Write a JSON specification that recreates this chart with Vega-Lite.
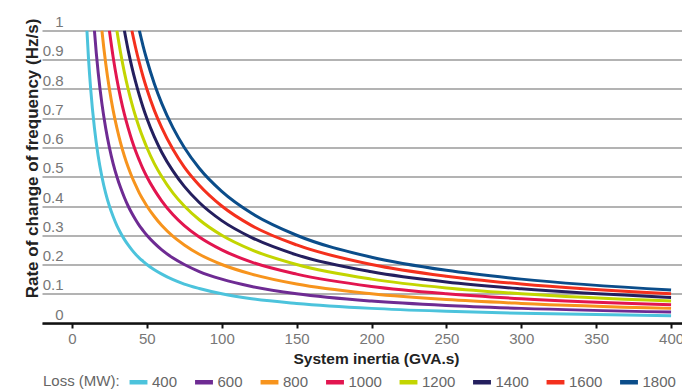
{
  "$schema": "https://vega.github.io/schema/vega-lite/v6.json",
  "autosize": "none",
  "width": 640,
  "height": 292.5,
  "padding": {"left": 42, "top": 30.5, "right": 0, "bottom": 67},
  "background": "white",
  "config": {
    "view": {"stroke": null},
    "font": "Liberation Sans"
  },
  "data": {"values": [
    {"l":400,"h":10,"r":1},{"l":400,"h":11,"r":0.909},{"l":400,"h":12.5,"r":0.8},{"l":400,"h":15,"r":0.667},{"l":400,"h":17.5,"r":0.571},{"l":400,"h":20,"r":0.5},{"l":400,"h":22.5,"r":0.444},{"l":400,"h":25,"r":0.4},{"l":400,"h":27.5,"r":0.364},{"l":400,"h":30,"r":0.333},{"l":400,"h":32.5,"r":0.308},{"l":400,"h":35,"r":0.286},{"l":400,"h":37.5,"r":0.267},{"l":400,"h":40,"r":0.25},{"l":400,"h":42.5,"r":0.235},{"l":400,"h":45,"r":0.222},{"l":400,"h":47.5,"r":0.211},{"l":400,"h":50,"r":0.2},{"l":400,"h":55,"r":0.182},{"l":400,"h":60,"r":0.167},{"l":400,"h":67.5,"r":0.148},{"l":400,"h":75,"r":0.133},{"l":400,"h":85,"r":0.118},{"l":400,"h":100,"r":0.1},{"l":400,"h":120,"r":0.083},{"l":400,"h":150,"r":0.067},{"l":400,"h":200,"r":0.05},{"l":400,"h":250,"r":0.04},{"l":400,"h":300,"r":0.033},{"l":400,"h":400,"r":0.025},
    {"l":600,"h":15,"r":1},{"l":600,"h":16.25,"r":0.923},{"l":600,"h":17.5,"r":0.857},{"l":600,"h":20,"r":0.75},{"l":600,"h":22.5,"r":0.667},{"l":600,"h":25,"r":0.6},{"l":600,"h":27.5,"r":0.545},{"l":600,"h":30,"r":0.5},{"l":600,"h":32.5,"r":0.462},{"l":600,"h":35,"r":0.429},{"l":600,"h":37.5,"r":0.4},{"l":600,"h":40,"r":0.375},{"l":600,"h":42.5,"r":0.353},{"l":600,"h":45,"r":0.333},{"l":600,"h":47.5,"r":0.316},{"l":600,"h":50,"r":0.3},{"l":600,"h":55,"r":0.273},{"l":600,"h":60,"r":0.25},{"l":600,"h":67.5,"r":0.222},{"l":600,"h":75,"r":0.2},{"l":600,"h":85,"r":0.176},{"l":600,"h":100,"r":0.15},{"l":600,"h":120,"r":0.125},{"l":600,"h":150,"r":0.1},{"l":600,"h":200,"r":0.075},{"l":600,"h":250,"r":0.06},{"l":600,"h":300,"r":0.05},{"l":600,"h":400,"r":0.0375},
    {"l":800,"h":20,"r":1},{"l":800,"h":21.25,"r":0.941},{"l":800,"h":22.5,"r":0.889},{"l":800,"h":25,"r":0.8},{"l":800,"h":27.5,"r":0.727},{"l":800,"h":30,"r":0.667},{"l":800,"h":32.5,"r":0.615},{"l":800,"h":35,"r":0.571},{"l":800,"h":37.5,"r":0.533},{"l":800,"h":40,"r":0.5},{"l":800,"h":42.5,"r":0.471},{"l":800,"h":45,"r":0.444},{"l":800,"h":47.5,"r":0.421},{"l":800,"h":50,"r":0.4},{"l":800,"h":55,"r":0.364},{"l":800,"h":60,"r":0.333},{"l":800,"h":67.5,"r":0.296},{"l":800,"h":75,"r":0.267},{"l":800,"h":85,"r":0.235},{"l":800,"h":100,"r":0.2},{"l":800,"h":120,"r":0.167},{"l":800,"h":150,"r":0.133},{"l":800,"h":200,"r":0.1},{"l":800,"h":250,"r":0.08},{"l":800,"h":300,"r":0.067},{"l":800,"h":400,"r":0.05},
    {"l":1000,"h":25,"r":1},{"l":1000,"h":27.5,"r":0.909},{"l":1000,"h":30,"r":0.833},{"l":1000,"h":32.5,"r":0.769},{"l":1000,"h":35,"r":0.714},{"l":1000,"h":37.5,"r":0.667},{"l":1000,"h":40,"r":0.625},{"l":1000,"h":42.5,"r":0.588},{"l":1000,"h":45,"r":0.556},{"l":1000,"h":47.5,"r":0.526},{"l":1000,"h":50,"r":0.5},{"l":1000,"h":55,"r":0.455},{"l":1000,"h":60,"r":0.417},{"l":1000,"h":67.5,"r":0.37},{"l":1000,"h":75,"r":0.333},{"l":1000,"h":85,"r":0.294},{"l":1000,"h":100,"r":0.25},{"l":1000,"h":120,"r":0.208},{"l":1000,"h":150,"r":0.167},{"l":1000,"h":200,"r":0.125},{"l":1000,"h":250,"r":0.1},{"l":1000,"h":300,"r":0.083},{"l":1000,"h":400,"r":0.0625},
    {"l":1200,"h":30,"r":1},{"l":1200,"h":32.5,"r":0.923},{"l":1200,"h":35,"r":0.857},{"l":1200,"h":37.5,"r":0.8},{"l":1200,"h":40,"r":0.75},{"l":1200,"h":42.5,"r":0.706},{"l":1200,"h":45,"r":0.667},{"l":1200,"h":47.5,"r":0.632},{"l":1200,"h":50,"r":0.6},{"l":1200,"h":55,"r":0.545},{"l":1200,"h":60,"r":0.5},{"l":1200,"h":67.5,"r":0.444},{"l":1200,"h":75,"r":0.4},{"l":1200,"h":85,"r":0.353},{"l":1200,"h":100,"r":0.3},{"l":1200,"h":120,"r":0.25},{"l":1200,"h":150,"r":0.2},{"l":1200,"h":200,"r":0.15},{"l":1200,"h":250,"r":0.12},{"l":1200,"h":300,"r":0.1},{"l":1200,"h":400,"r":0.075},
    {"l":1400,"h":35,"r":1},{"l":1400,"h":37.5,"r":0.933},{"l":1400,"h":40,"r":0.875},{"l":1400,"h":42.5,"r":0.824},{"l":1400,"h":45,"r":0.778},{"l":1400,"h":47.5,"r":0.737},{"l":1400,"h":50,"r":0.7},{"l":1400,"h":55,"r":0.636},{"l":1400,"h":60,"r":0.583},{"l":1400,"h":67.5,"r":0.519},{"l":1400,"h":75,"r":0.467},{"l":1400,"h":85,"r":0.412},{"l":1400,"h":100,"r":0.35},{"l":1400,"h":120,"r":0.292},{"l":1400,"h":150,"r":0.233},{"l":1400,"h":200,"r":0.175},{"l":1400,"h":250,"r":0.14},{"l":1400,"h":300,"r":0.117},{"l":1400,"h":400,"r":0.0875},
    {"l":1600,"h":40,"r":1},{"l":1600,"h":42.5,"r":0.941},{"l":1600,"h":45,"r":0.889},{"l":1600,"h":47.5,"r":0.842},{"l":1600,"h":50,"r":0.8},{"l":1600,"h":55,"r":0.727},{"l":1600,"h":60,"r":0.667},{"l":1600,"h":67.5,"r":0.593},{"l":1600,"h":75,"r":0.533},{"l":1600,"h":85,"r":0.471},{"l":1600,"h":100,"r":0.4},{"l":1600,"h":120,"r":0.333},{"l":1600,"h":150,"r":0.267},{"l":1600,"h":200,"r":0.2},{"l":1600,"h":250,"r":0.16},{"l":1600,"h":300,"r":0.133},{"l":1600,"h":400,"r":0.1},
    {"l":1800,"h":45,"r":1},{"l":1800,"h":47.5,"r":0.947},{"l":1800,"h":50,"r":0.9},{"l":1800,"h":55,"r":0.818},{"l":1800,"h":60,"r":0.75},{"l":1800,"h":67.5,"r":0.667},{"l":1800,"h":75,"r":0.6},{"l":1800,"h":85,"r":0.529},{"l":1800,"h":100,"r":0.45},{"l":1800,"h":120,"r":0.375},{"l":1800,"h":150,"r":0.3},{"l":1800,"h":200,"r":0.225},{"l":1800,"h":250,"r":0.18},{"l":1800,"h":300,"r":0.15},{"l":1800,"h":400,"r":0.1125}
  ]},
  "mark": {"type": "line", "strokeWidth": 3, "interpolate": "monotone", "clip": true},
  "encoding": {
    "x": {
      "field": "h", "type": "quantitative",
      "scale": {"domain": [-20, 407.3], "nice": false, "zero": false},
      "axis": {
        "values": [0, 50, 100, 150, 200, 250, 300, 350, 400],
        "grid": false,
        "domainColor": "#111", "domainWidth": 2.5,
        "tickColor": "#111", "tickWidth": 2, "tickSize": 5,
        "labelPadding": 3, "labelFontSize": 15, "labelColor": "#777",
        "labelFlush": false,
        "title": "System inertia (GVA.s)",
        "titleFontSize": 15.5, "titleFontWeight": "bold", "titleColor": "#222",
        "titleX": 334, "titleY": 40, "titleAlign": "center", "titleBaseline": "alphabetic", "titleAnchor": null
      }
    },
    "y": {
      "field": "r", "type": "quantitative",
      "scale": {"domain": [0, 1], "nice": false},
      "axis": {
        "values": [0, 0.1, 0.2, 0.3, 0.4, 0.5, 0.6, 0.7, 0.8, 0.9, 1],
        "format": "~g",
        "domain": false, "ticks": false, "tickSize": 0,
        "grid": true, "gridColor": "#9a9a9a", "gridWidth": 1.5,
        "labelAlign": "right", "labelBaseline": "alphabetic", "labelOffset": -4,
        "labelPadding": -21, "labelFontSize": 15, "labelColor": "#777",
        "labelFlush": false, "labelBound": false, "labelOverlap": false,
        "title": "Rate of change of frequency (Hz/s)",
        "titleFontSize": 17, "titleFontWeight": "bold", "titleColor": "#222",
        "titleAngle": 270, "titleX": -4.5, "titleY": 127.5, "titleAlign": "center", "titleBaseline": "alphabetic", "titleAnchor": null
      }
    },
    "color": {
      "field": "l", "type": "ordinal",
      "scale": {
        "domain": [400, 600, 800, 1000, 1200, 1400, 1600, 1800],
        "range": ["#4cc3dc", "#6e2b93", "#f7941d", "#e2154f", "#c3d500", "#241f5e", "#f4301d", "#0b4d8a"]
      },
      "legend": {
        "orient": "none", "legendX": 1, "legendY": 340,
        "direction": "horizontal",
        "title": "Loss (MW):", "titleOrient": "left",
        "titleFontSize": 15, "titleFontWeight": "normal", "titleColor": "#666", "titlePadding": 7,
        "symbolType": "stroke", "symbolSize": 320, "symbolStrokeWidth": 4.5,
        "labelFontSize": 15, "labelColor": "#666", "labelOffset": 2,
        "columnPadding": 7.5
      }
    }
  }
}
